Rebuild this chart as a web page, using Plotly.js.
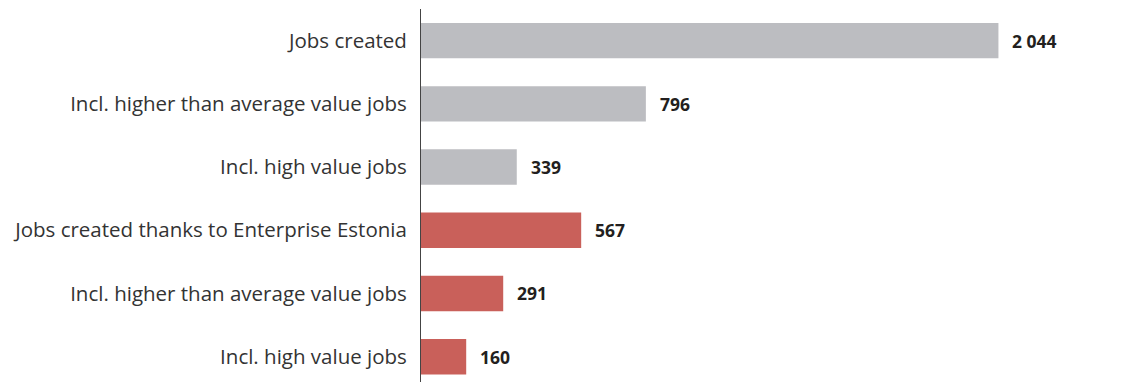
<!DOCTYPE html>
<html><head><meta charset="utf-8">
<script src="https://cdn.plot.ly/plotly-3.0.1.min.js"></script>
<style>html,body{margin:0;padding:0;background:#fff}#c{width:1137px;height:382px}</style>
</head><body><div id="c"></div>
<script>
var categories = ["Jobs created","Incl. higher than average value jobs","Incl. high value jobs","Jobs created thanks to Enterprise Estonia","Incl. higher than average value jobs","Incl. high value jobs"];
var values = [2044, 796, 339, 567, 291, 160];
var valueLabels = ["2 044","796","339","567","291","160"];
var barColors = ["#BCBDC1","#BCBDC1","#BCBDC1","#C9605A","#C9605A","#C9605A"];

var pos = categories.map(function(c,i){return i;});
var trace = {type:"bar", orientation:"h", y:pos, x:values, marker:{color:barColors}, hoverinfo:"skip"};
var annotations = values.map(function(v,i){return {x:v, y:pos[i], xref:"x", yref:"y", text:"<b>"+valueLabels[i]+"</b>", showarrow:false, xanchor:"left", xshift:12, yshift:0, font:{family:"Open Sans", size:17.5, color:"#231F20"}};});
var layout = {
  width:1137, height:382, margin:{l:421, r:38, t:9, b:0},
  paper_bgcolor:"#fff", plot_bgcolor:"#fff", bargap:0.44, showlegend:false,
  xaxis:{range:[0,2400], showgrid:false, zeroline:false, showticklabels:false, showline:false, fixedrange:true},
  yaxis:{range:[5.4,-0.5], tickmode:"array", tickvals:pos, ticktext:categories, showgrid:false, zeroline:false, showline:true, linecolor:"#444", linewidth:1, ticks:"", ticklabelstandoff:9, tickfont:{family:"Open Sans", size:20.5, color:"#333333"}},
  annotations:annotations
};
Plotly.newPlot("c",[trace],layout,{staticPlot:true});
</script></body></html>
